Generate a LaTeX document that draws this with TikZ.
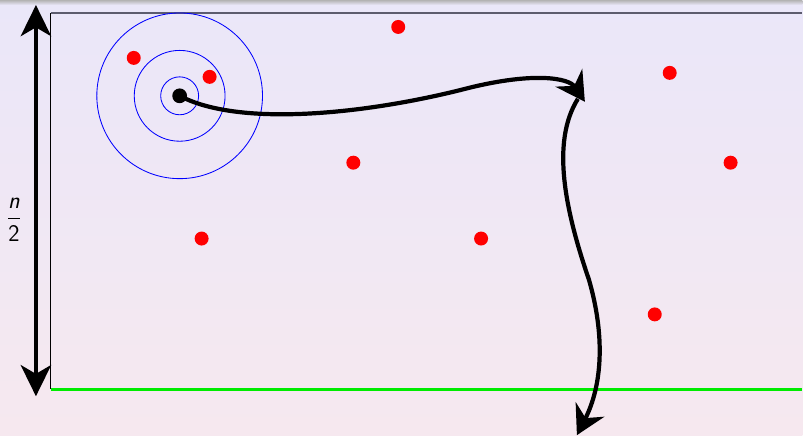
\documentclass[tikz,border=0pt]{standalone}
\usepackage{tikz}
\usetikzlibrary{arrows.meta}

\definecolor{bgtop}{RGB}{234,231,249}
\definecolor{bgbot}{RGB}{246,232,239}
\definecolor{framegray}{RGB}{92,92,110}
\definecolor{edgegreen}{RGB}{0,235,0}

\begin{document}
\begin{tikzpicture}[x=0.025cm,y=-0.025cm,
  site/.style={circle,fill=red,inner sep=0pt,minimum size=0.35cm},
  source/.style={circle,fill=black,inner sep=0pt,minimum size=0.37cm},
  ring/.style={draw=blue,line width=0.6pt},
  walk/.style={line width=3pt,-{Stealth[length=0.72cm,width=0.8cm,inset=0.24cm]}}]
% background
\shade[top color=bgtop,bottom color=bgbot] (0,0) rectangle (804,436);
\shade[top color=black!30,bottom color=bgtop] (0,0) rectangle (804,5);
% frame
\draw[framegray,line width=1.2pt] (51,13) -- (804,13);
\draw[black,line width=0.6pt] (51,13) -- (51,390);
\draw[edgegreen,line width=2.2pt] (51,390) -- (804,390);
% height arrow
\coordinate (h_top) at (36,5);
\coordinate (h_bot) at (36,397);
\draw[line width=2.8pt,{Stealth[length=0.78cm,width=0.76cm,inset=0.22cm]}-{Stealth[length=0.78cm,width=0.76cm,inset=0.22cm]}] (h_top) -- (h_bot);
\node[font=\sffamily\fontsize{17}{19}\selectfont,inner sep=0pt] (h_lab) at (14,220) {$\displaystyle\frac{\textsf{\itshape n}}{\textsf{2}}$};
% rings around the source
\node[source] (src) at (180,96) {};
\draw[ring] (src.center) circle (19);
\draw[ring] (src.center) circle (45.5);
\draw[ring] (src.center) circle (83);
% sites
\node[site] (s1) at (134,58) {};
\node[site] (s2) at (210,77) {};
\node[site] (s3) at (399,27) {};
\node[site] (s4) at (671,73) {};
\node[site] (s5) at (354,163) {};
\node[site] (s6) at (732,163) {};
\node[site] (s7) at (202,239) {};
\node[site] (s8) at (482,239) {};
\node[site] (s9) at (656,315) {};
% path of the walk
\coordinate (turn) at (586,102);
\coordinate (turn_out) at (579,99);
\coordinate (exit) at (578,436);
\draw[walk] (src.center) .. controls (240,128) and (370,114) .. (470,88) .. controls (535,72) and (570,78) .. (turn);
\draw[walk] (turn_out) .. controls (552,142) and (566,210) .. (590,280) .. controls (606,335) and (604,385) .. (exit);
\end{tikzpicture}
\end{document}
